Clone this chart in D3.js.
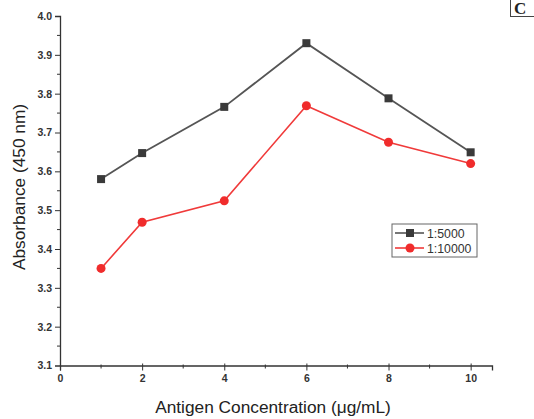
<!DOCTYPE html>
<html>
<head>
<meta charset="utf-8">
<script src="https://cdn.jsdelivr.net/npm/d3@7"></script>
<style>
  body { margin: 0; background: #fff; }
  svg { display: block; font-family: "Liberation Sans", Arial, sans-serif; }
</style>
</head>
<body>
<script>
(function () {

  let concentrations = [1, 2, 4, 6, 8, 10];
  let dil5000  = [3.580, 3.647, 3.766, 3.930, 3.788, 3.649];
  let dil10000 = [3.350, 3.469, 3.524, 3.769, 3.675, 3.620];
  let seriesNames = ['1:5000', '1:10000'];
  let xTicks = [0, 2, 4, 6, 8, 10];
  let yTicks = [3.1, 3.2, 3.3, 3.4, 3.5, 3.6, 3.7, 3.8, 3.9, 4.0];

  let width = 534, height = 419;

  let x = d3.scaleLinear().domain([0, 10.52]).range([60, 492]);
  let y = d3.scaleLinear().domain([3.1, 4.0]).range([365.5, 16]);

  let svg = d3.select('body').append('svg')
      .attr('width', width)
      .attr('height', height);

  // y axis (major ticks + minor ticks)
  let yAxis = d3.axisLeft(y).tickValues(yTicks).tickFormat(d3.format('.1f')).tickSize(5).tickPadding(3);
  let gy = svg.append('g').attr('transform', 'translate(60,0)').call(yAxis);
  gy.selectAll('.tick').filter(d => d === 3.1).select('line').remove();
  gy.append('g').selectAll('line')
    .data(yTicks.slice(0, -1).map(d => d + 0.05))
    .enter().append('line')
    .attr('x1', 0).attr('x2', -3)
    .attr('y1', d => y(d)).attr('y2', d => y(d))
    .attr('stroke', '#333');

  // x axis
  let xAxis = d3.axisBottom(x).tickValues(xTicks).tickSize(5).tickPadding(4);
  let gx = svg.append('g').attr('transform', 'translate(0,365.5)').call(xAxis);
  gx.selectAll('.tick line').attr('y1', -2);
  gx.append('g').selectAll('line')
    .data([1, 3, 5, 7, 9])
    .enter().append('line')
    .attr('x1', d => x(d)).attr('x2', d => x(d))
    .attr('y1', -1).attr('y2', 3)
    .attr('stroke', '#333');

  svg.selectAll('.domain').attr('stroke', '#333').attr('stroke-width', 1.3);
  svg.selectAll('.tick line').attr('stroke', '#333');
  svg.selectAll('.tick text')
    .attr('font-family', '"Liberation Sans", Arial, sans-serif')
    .attr('font-size', 10.5)
    .attr('font-weight', 'bold')
    .attr('fill', '#333');

  // axis titles
  svg.append('text')
    .attr('x', 273).attr('y', 413)
    .attr('text-anchor', 'middle')
    .attr('font-size', 17.3)
    .attr('fill', '#222')
    .text('Antigen Concentration (μg/mL)');

  svg.append('text')
    .attr('transform', 'translate(25,187) rotate(-90)')
    .attr('text-anchor', 'middle')
    .attr('font-size', 17.3)
    .attr('fill', '#222')
    .text('Absorbance (450 nm)');

  let line = d3.line()
      .x((d, i) => x(concentrations[i]))
      .y(d => y(d));

  // 1:5000 series
  svg.append('path')
    .datum(dil5000)
    .attr('d', line)
    .attr('fill', 'none')
    .attr('stroke', '#555')
    .attr('stroke-width', 1.8);
  svg.selectAll('rect.s5000').data(dil5000).enter().append('rect')
    .attr('class', 's5000')
    .attr('x', (d, i) => x(concentrations[i]) - 4)
    .attr('y', d => y(d) - 4)
    .attr('width', 8).attr('height', 8)
    .attr('fill', '#3a3a3a');

  // 1:10000 series
  svg.append('path')
    .datum(dil10000)
    .attr('d', line)
    .attr('fill', 'none')
    .attr('stroke', '#f03a3a')
    .attr('stroke-width', 1.6);
  svg.selectAll('circle.s10000').data(dil10000).enter().append('circle')
    .attr('class', 's10000')
    .attr('cx', (d, i) => x(concentrations[i]))
    .attr('cy', d => y(d))
    .attr('r', 4.5)
    .attr('fill', '#f02c2c');

  // legend
  let lg = svg.append('g').attr('transform', 'translate(392,224)');
  lg.append('rect')
    .attr('width', 85).attr('height', 33)
    .attr('fill', '#fff')
    .attr('stroke', '#666')
    .attr('stroke-width', 1);
  let ent = lg.selectAll('g.entry').data(seriesNames).enter().append('g')
    .attr('class', 'entry')
    .attr('transform', (d, i) => 'translate(0,' + (9 + i * 15) + ')');
  ent.append('line')
    .attr('x1', 3).attr('x2', 32)
    .attr('stroke', (d, i) => i === 0 ? '#555' : '#f03a3a')
    .attr('stroke-width', 1.6);
  ent.filter((d, i) => i === 0).append('rect')
    .attr('x', 14).attr('y', -4).attr('width', 8).attr('height', 8)
    .attr('fill', '#3a3a3a');
  ent.filter((d, i) => i === 1).append('circle')
    .attr('cx', 18).attr('r', 4.5)
    .attr('fill', '#f02c2c');
  ent.append('text')
    .attr('x', 35).attr('y', 4.5)
    .attr('font-size', 12.3)
    .attr('fill', '#333')
    .text(d => d);

  // panel label
  svg.append('rect')
    .attr('x', 510.5).attr('y', -2)
    .attr('width', 30).attr('height', 18.5)
    .attr('fill', 'none')
    .attr('stroke', '#444');
  svg.append('text')
    .attr('x', 514).attr('y', 14)
    .attr('font-family', '"Liberation Serif", "Times New Roman", serif')
    .attr('font-weight', 'bold')
    .attr('font-size', 17)
    .attr('fill', '#222')
    .text('C');

})();
</script>
</body>
</html>
